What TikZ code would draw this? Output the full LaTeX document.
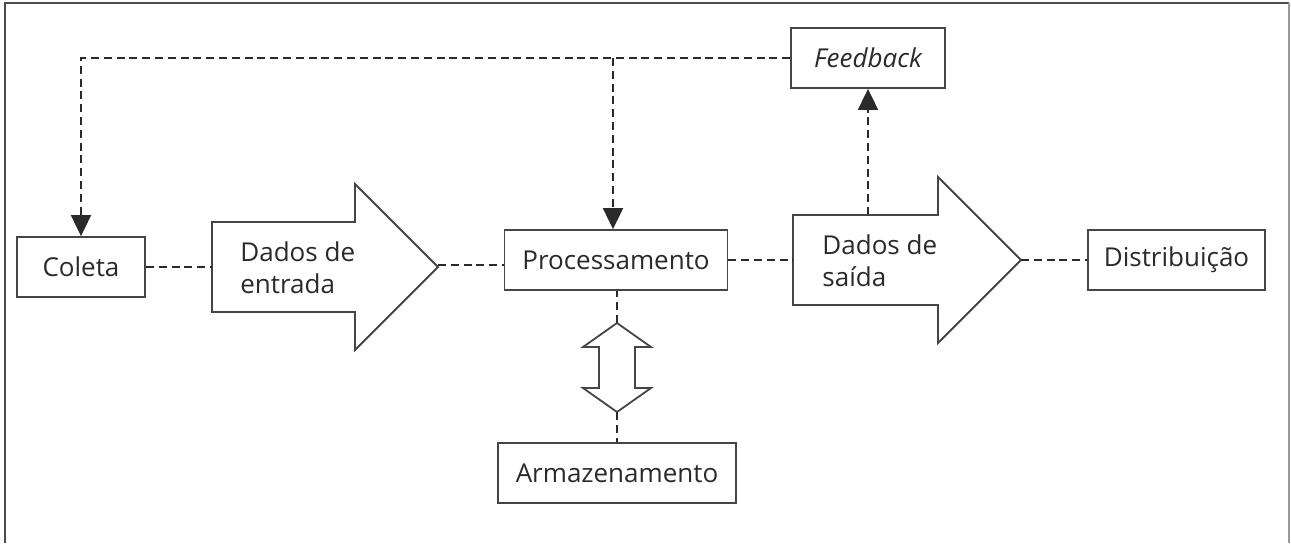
\documentclass[tikz,border=0pt]{standalone}
\usepackage{fontspec}
\setmainfont{Open Sans}
\usetikzlibrary{arrows.meta,calc}

\definecolor{ink}{HTML}{2A2A2A}
\definecolor{rim}{HTML}{454545}

\tikzset{
  box/.style={draw=rim, line width=0.9pt, fill=white, inner sep=0pt,
              text=ink, font=\fontsize{13}{16}\selectfont},
  bigarrow/.style={draw=rim, line width=0.9pt, fill=white, line join=miter},
  label/.style={text=ink, anchor=west, align=left, inner sep=0pt,
                font=\fontsize{13}{16}\selectfont},
  link/.style={draw=ink, line width=0.95pt, dash pattern=on 4pt off 2.4pt},
  tip/.style={-{Triangle[length=10.5pt,width=10pt]}},
  frame/.style={draw=black!70, line width=1pt}
}

\begin{document}
\begin{tikzpicture}[x=0.5pt, y=-0.5pt]
  \useasboundingbox (0,0) rectangle (1291,543);

  % outer frame (open at the bottom)
  \draw[frame] (5,543) -- (5,3) -- (1289,3);
  \draw[draw=black!40, line width=0.7pt] (1289,3) -- (1289,543);

  % boxes
  \node[box, minimum width=64pt,   minimum height=30pt] (coleta) at (81,267)   {Coleta};
  \node[box, minimum width=111.5pt, minimum height=30pt] (proc)  at (616,260)  {Processamento};
  \node[box, minimum width=119pt,  minimum height=30pt] (arm)    at (617,473)  {Armazenamento};
  \node[box, minimum width=88.5pt, minimum height=30pt] (dist)   at (1176.5,260) {Distribuição};
  \node[box, minimum width=77pt,   minimum height=30pt] (feed)   at (868,58)   {\itshape Feedback};

  % input data arrow
  \draw[bigarrow] (212,222) -- (355,222) -- (355,184) -- (438,267)
                  -- (355,350) -- (355,312) -- (212,312) -- cycle;
  \coordinate (ein-tail) at (212,267);
  \coordinate (ein-tip)  at (438,265);
  \node[label] (ein-text) at (240,268) {Dados de\\entrada};

  % output data arrow
  \draw[bigarrow] (793,215) -- (938,215) -- (938,177) -- (1021,260)
                  -- (938,343) -- (938,305) -- (793,305) -- cycle;
  \coordinate (eout-tail) at (793,260);
  \coordinate (eout-top)  at (868,215);
  \coordinate (eout-tip)  at (1021,260);
  \node[label] (eout-text) at (822,261) {Dados de\\saída};

  % two-way storage arrow
  \draw[bigarrow] (617,323) -- (651,347) -- (635,347) -- (635,388) -- (651,388)
                  -- (617,412) -- (583,388) -- (599,388) -- (599,347) -- (583,347) -- cycle;
  \coordinate (dbl-top) at (617,323);
  \coordinate (dbl-bot) at (617,412);

  % flow connectors
  \draw[link] (coleta.east) -- (ein-tail);
  \draw[link] (ein-tip) -- (ein-tip -| proc.west);
  \draw[link] (proc.east) -- (eout-tail);
  \draw[link] (eout-tip) -- (dist.west);
  \draw[link] (dbl-top) -- (dbl-top |- proc.south);
  \draw[link] (dbl-bot) -- (dbl-bot |- arm.north);

  % feedback loop
  \draw[link, tip] (eout-top) -- (feed.south);
  \draw[link, tip] (feed.west) -| (coleta.north);
  \coordinate (fork) at (613,58);
  \draw[link, tip] (fork) -- (fork |- proc.north);
\end{tikzpicture}
\end{document}
